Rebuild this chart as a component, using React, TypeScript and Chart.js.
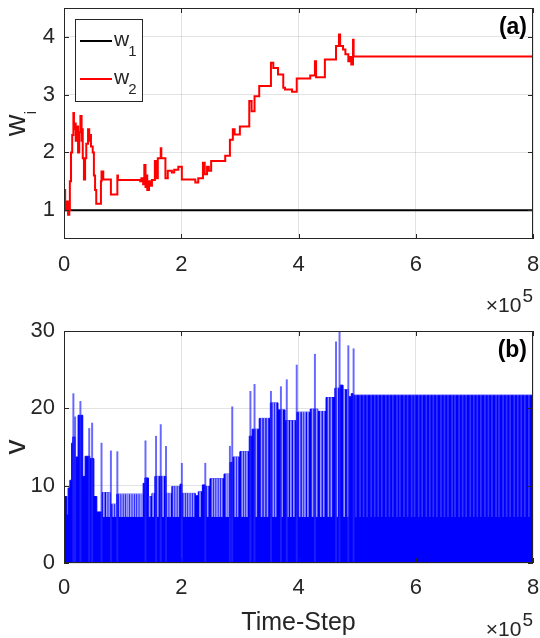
import React, { useEffect, useRef } from "react";
import { Chart, registerables } from "chart.js";

Chart.register(...registerables);

// ---------- axes ----------
const X_TICKS = [0, 2, 4, 6, 8];
const X_TICK_LABELS = ["0", "2", "4", "6", "8"];
const W_TICKS = [1, 2, 3, 4];
const W_TICK_LABELS = ["1", "2", "3", "4"];
const V_TICKS = [0, 10, 20, 30];
const V_TICK_LABELS = ["0", "10", "20", "30"];

// ---------- panel (a): weights ----------
const w1X = [0, 8];
const w1Y = [1, 1];

const w2X = [
  0.0, 0.02, 0.03, 0.05, 0.07, 0.09, 0.1, 0.12, 0.14, 0.16, 0.17, 0.19, 0.2, 0.22, 0.24, 0.26,
  0.28, 0.3, 0.31, 0.32, 0.34, 0.36, 0.38, 0.41, 0.43, 0.44, 0.46, 0.49, 0.51, 0.53, 0.55, 0.63,
  0.64, 0.67, 0.8, 0.91, 0.92, 1.3, 1.32, 1.35, 1.37, 1.39, 1.41, 1.42, 1.45, 1.47, 1.5, 1.55,
  1.57, 1.6, 1.65, 1.66, 1.73, 1.77, 1.84, 1.88, 1.95, 2.01, 2.24, 2.29, 2.37, 2.4, 2.44, 2.47,
  2.51, 2.75, 2.83, 2.88, 2.91, 3.0, 3.16, 3.2, 3.25, 3.33, 3.53, 3.57, 3.65, 3.74, 3.77, 3.89,
  3.97, 4.2, 4.28, 4.3, 4.45, 4.64, 4.69, 4.71, 4.76, 4.8, 4.85, 4.88, 4.9, 4.93, 4.94, 8.0,
];
const w2Y = [
  1.35, 1.15, 1.0, 1.15, 0.92, 1.0, 1.5, 2.0, 2.3, 2.68, 2.4, 2.5, 2.2, 2.45, 2.0, 2.35,
  2.63, 2.2, 2.4, 1.9, 1.53, 1.9, 2.15, 2.4, 2.2, 2.3, 2.1, 2.0, 1.6, 1.35, 1.11, 1.5,
  1.67, 1.53, 1.27, 1.6, 1.52, 1.5, 1.55, 1.45, 1.78, 1.4, 1.6, 1.35, 1.5, 1.42, 1.52, 1.85,
  1.55, 1.9, 2.07, 1.9, 1.55, 1.68, 1.65, 1.7, 1.75, 1.53, 1.48, 1.55, 1.82, 1.62, 1.75, 1.68,
  1.85, 1.94, 2.22, 2.4, 2.31, 2.45, 2.89, 2.71, 2.97, 3.15, 3.55, 3.46, 3.35, 3.12, 3.09, 3.05,
  3.28, 3.33, 3.58, 3.3, 3.61, 3.84, 4.04, 3.84, 3.78, 3.7, 3.58, 3.65, 3.52, 3.95, 3.66, 3.66,
];

// ---------- panel (b): v ----------
const vEnvX = [
  0.0, 0.05, 0.07, 0.1, 0.13, 0.15, 0.19, 0.24, 0.32, 0.36, 0.44, 0.51, 0.56, 0.65, 0.79, 0.9,
  1.35, 1.38, 1.44, 1.5, 1.55, 1.74, 1.84, 1.98, 2.01, 2.24, 2.29, 2.36, 2.41, 2.49, 2.73, 2.83,
  2.88, 3.0, 3.16, 3.21, 3.33, 3.52, 3.65, 3.77, 3.97, 4.2, 4.33, 4.47, 4.62, 4.71, 4.76, 4.85,
  4.9, 4.93, 8.0,
];
const vEnvY = [
  8.6, 6.2, 9.7, 10.7, 15.5, 16.3, 13.7, 19.1, 11.2, 13.8, 13.5, 8.6, 6.6, 9.1, 7.6, 8.9,
  10.3, 11.0, 8.6, 9.0, 11.2, 9.0, 9.9, 10.2, 9.0, 8.7, 9.2, 10.1, 9.9, 10.9, 11.5, 13.0,
  13.7, 14.4, 16.4, 17.3, 18.7, 20.7, 19.8, 18.4, 19.5, 19.9, 19.6, 21.4, 22.6, 23.0, 22.4, 21.5,
  21.9, 21.7, 21.7,
];

const vSpikeX = [
  0.0, 0.16, 0.19, 0.28, 0.43, 0.48, 0.64, 0.8, 0.91, 1.39, 1.57, 1.65, 1.74, 2.01, 2.41, 2.83,
  2.87, 3.18, 3.25, 3.53, 3.7, 3.8, 3.97, 4.28, 4.64, 4.7, 4.85, 4.94,
];
const vSpikeY = [
  12.7, 21.9, 18.9, 20.9, 17.4, 18.1, 15.5, 14.5, 14.4, 15.8, 16.4, 17.9, 15.1, 12.9, 12.9, 15.1,
  20.2, 22.2, 23.1, 22.2, 22.8, 23.7, 25.6, 27.0, 28.6, 29.9, 28.1, 27.7,
];

const V_GAP_FLOOR = 6;
const vGapX = [
  0.68, 0.73, 0.77, 0.84, 0.88, 0.95, 0.99, 1.03, 1.07, 1.1, 1.14, 1.18, 1.22, 1.26, 1.3, 1.33,
  1.46, 1.52, 1.6, 1.69, 1.77, 1.81, 1.87, 1.91, 1.95, 2.05, 2.09, 2.13, 2.17, 2.21, 2.32, 2.45,
  2.53, 2.57, 2.61, 2.65, 2.69, 2.77, 2.8, 2.92, 2.96, 3.04, 3.08, 3.12, 3.28, 3.37, 3.42, 3.47,
  3.57, 3.61, 3.72, 3.82, 3.87, 3.92, 4.02, 4.07, 4.11, 4.16, 4.24, 4.31, 4.38, 4.43, 4.51, 4.56,
  4.66, 4.78, 4.84, 4.98, 5.05, 5.11, 5.17, 5.24, 5.3, 5.36, 5.42, 5.49, 5.55, 5.61, 5.68, 5.73,
  5.8, 5.86, 5.93, 5.98, 6.05, 6.11, 6.18, 6.24, 6.3, 6.36, 6.43, 6.49, 6.55, 6.62, 6.67, 6.74,
  6.8, 6.86, 6.93, 6.99, 7.05, 7.11, 7.18, 7.24, 7.3, 7.37, 7.42, 7.49, 7.55, 7.61, 7.68, 7.74,
  7.8, 7.86, 7.93,
];
const vGapTop = [
  9.1, 9.1, 9.1, 7.6, 7.6, 8.9, 8.9, 8.9, 8.9, 8.9, 8.9, 8.9, 8.9, 8.9, 8.9, 8.9,
  8.6, 9.0, 11.2, 11.2, 9.0, 9.0, 9.9, 9.9, 9.9, 9.0, 9.0, 9.0, 9.0, 9.0, 9.2, 9.9,
  10.9, 10.9, 10.9, 10.9, 10.9, 11.5, 11.5, 13.7, 13.7, 14.4, 14.4, 14.4, 17.3, 18.7, 18.7, 18.7,
  20.7, 20.7, 19.8, 18.4, 18.4, 18.4, 19.5, 19.5, 19.5, 19.5, 19.9, 19.9, 19.6, 19.6, 21.4, 21.4,
  22.6, 22.4, 22.4, 21.7, 21.7, 21.7, 21.7, 21.7, 21.7, 21.7, 21.7, 21.7, 21.7, 21.7, 21.7, 21.7,
  21.7, 21.7, 21.7, 21.7, 21.7, 21.7, 21.7, 21.7, 21.7, 21.7, 21.7, 21.7, 21.7, 21.7, 21.7, 21.7,
  21.7, 21.7, 21.7, 21.7, 21.7, 21.7, 21.7, 21.7, 21.7, 21.7, 21.7, 21.7, 21.7, 21.7, 21.7, 21.7,
  21.7, 21.7, 21.7,
];

// ---------- styling ----------
const INK = "#262626";
const GRID = "rgba(38,38,38,0.13)";
const FONT = '"Liberation Sans", Arial, Helvetica, sans-serif';
const W = 540;
const TOP_H = 320;
const BOT_H = 318;

type PanelOpts = {
  letter: string;
  yTicks: number[];
  yLabel: string;
  ySub: string;
  legend: boolean;
  xTitle: boolean;
};

function makeDecor(o: PanelOpts) {
  return {
    id: "decor",
    afterDraw(chart: any) {
      const { ctx, chartArea: ca } = chart;
      const xs = chart.scales.x;
      const ys = chart.scales.y;
      ctx.save();
      ctx.strokeStyle = INK;
      ctx.lineWidth = 1;
      // ticks pointing inward
      const tl = 5;
      ctx.beginPath();
      X_TICKS.forEach((v) => {
        const px = Math.round(xs.getPixelForValue(v)) + 0.5;
        ctx.moveTo(px, ca.bottom);
        ctx.lineTo(px, ca.bottom - tl);
        ctx.moveTo(px, ca.top);
        ctx.lineTo(px, ca.top + tl);
      });
      o.yTicks.forEach((v) => {
        const py = Math.round(ys.getPixelForValue(v)) + 0.5;
        ctx.moveTo(ca.left, py);
        ctx.lineTo(ca.left + tl, py);
        ctx.moveTo(ca.right, py);
        ctx.lineTo(ca.right - tl, py);
      });
      ctx.stroke();
      // box
      ctx.strokeRect(ca.left + 0.5, ca.top + 0.5, ca.right - ca.left - 1, ca.bottom - ca.top - 1);

      // panel letter
      ctx.font = `bold 23px ${FONT}`;
      ctx.textAlign = "right";
      ctx.textBaseline = "alphabetic";
      ctx.fillStyle = "#000";
      ctx.fillText(o.letter, ca.right - 6, ca.top + 26);
      ctx.fillStyle = INK;

      // x10^5
      ctx.textAlign = "left";
      ctx.font = `19px ${FONT}`;
      const w5 = ctx.measureText("5").width;
      ctx.font = `21px ${FONT}`;
      const w10 = ctx.measureText("10").width;
      const wx = ctx.measureText("\u00d7").width;
      const x5 = ca.right - w5;
      const x10 = x5 - w10 - 1;
      const xx = x10 - wx;
      const base = ca.bottom + 73;
      ctx.fillText("\u00d7", xx, base);
      ctx.fillText("10", x10, base);
      ctx.font = `19px ${FONT}`;
      ctx.fillText("5", x5, base - 10);

      // y label (rotated) with subscript
      const cy = (ca.top + ca.bottom) / 2;
      ctx.save();
      ctx.translate(25, cy);
      ctx.rotate(-Math.PI / 2);
      ctx.font = `30px ${FONT}`;
      const mw = ctx.measureText(o.yLabel).width;
      let sw = 0;
      if (o.ySub) {
        ctx.font = `17px ${FONT}`;
        sw = ctx.measureText(o.ySub).width;
      }
      const start = -(mw + sw) / 2;
      ctx.font = `30px ${FONT}`;
      ctx.textAlign = "left";
      ctx.fillText(o.yLabel, start, 0);
      if (o.ySub) {
        ctx.font = `17px ${FONT}`;
        ctx.fillText(o.ySub, start + mw, 11);
      }
      ctx.restore();

      // x title
      if (o.xTitle) {
        ctx.font = `25px ${FONT}`;
        ctx.textAlign = "center";
        ctx.textBaseline = "middle";
        ctx.fillText("Time-Step", (ca.left + ca.right) / 2, ca.bottom + 60);
      }

      // legend
      if (o.legend) {
        ctx.fillStyle = "#fff";
        ctx.fillRect(75, 19, 67, 82);
        ctx.strokeStyle = INK;
        ctx.lineWidth = 1;
        ctx.strokeRect(75.5, 19.5, 67, 82);
        const rows = [
          { color: "#000000", y: 41, sub: "1" },
          { color: "#ff0000", y: 79, sub: "2" },
        ];
        rows.forEach((r) => {
          ctx.strokeStyle = r.color;
          ctx.lineWidth = 2;
          ctx.beginPath();
          ctx.moveTo(80, r.y);
          ctx.lineTo(112, r.y);
          ctx.stroke();
          ctx.fillStyle = INK;
          ctx.textAlign = "left";
          ctx.textBaseline = "alphabetic";
          ctx.font = `21px ${FONT}`;
          ctx.fillText("w", 114, r.y + 5);
          const ww = ctx.measureText("w").width;
          ctx.font = `15px ${FONT}`;
          ctx.fillText(r.sub, 114 + ww - 1, r.y + 15);
        });
      }
      ctx.restore();
    },
  };
}

function xScale(height: number, padding: number) {
  return {
    type: "linear",
    min: 0,
    max: 8,
    offset: false,
    afterBuildTicks: (s: any) => {
      s.ticks = X_TICKS.map((v) => ({ value: v }));
    },
    afterFit: (s: any) => {
      s.height = height;
      s.paddingLeft = 0;
      s.paddingRight = 0;
      s.paddingTop = 0;
      s.paddingBottom = 0;
    },
    grid: { color: GRID, drawTicks: false, offset: false, lineWidth: 1 },
    border: { display: false },
    ticks: {
      padding,
      color: INK,
      autoSkip: false,
      maxRotation: 0,
      font: { family: FONT, size: 22 },
      callback: (v: number) => X_TICK_LABELS[X_TICKS.indexOf(v)] ?? "",
    },
  };
}

function yScale(min: number, max: number, ticks: number[], labels: string[]) {
  return {
    type: "linear",
    min,
    max,
    afterBuildTicks: (s: any) => {
      s.ticks = ticks.map((v) => ({ value: v }));
    },
    afterFit: (s: any) => {
      s.width = 64;
      s.paddingLeft = 0;
      s.paddingRight = 0;
      s.paddingTop = 0;
      s.paddingBottom = 0;
    },
    grid: { color: GRID, drawTicks: false, lineWidth: 1 },
    border: { display: false },
    ticks: {
      padding: 9,
      color: INK,
      font: { family: FONT, size: 22 },
      callback: (v: number) => labels[ticks.indexOf(v)] ?? "",
    },
  };
}

function pts(xs: number[], ys: number[]) {
  return xs.map((x, i) => ({ x, y: ys[i] }));
}

function topConfig(): any {
  return {
    type: "line",
    data: {
      datasets: [
        {
          label: "w1",
          data: pts(w1X, w1Y),
          borderColor: "#000000",
          borderWidth: 2,
          pointRadius: 0,
          fill: false,
          order: 2,
        },
        {
          label: "w2",
          data: pts(w2X, w2Y),
          borderColor: "#ff0000",
          borderWidth: 2,
          pointRadius: 0,
          stepped: "before",
          fill: false,
          order: 1,
        },
      ],
    },
    options: {
      responsive: false,
      animation: false,
      layout: { padding: { left: 0, right: 7, top: 8, bottom: 0 } },
      plugins: { legend: { display: false }, tooltip: { enabled: false } },
      scales: {
        x: xScale(TOP_H - 239, 13),
        y: yScale(0.5, 4.5, W_TICKS, W_TICK_LABELS),
      },
    },
    plugins: [
      makeDecor({ letter: "(a)", yTicks: W_TICKS, yLabel: "w", ySub: "i", legend: true, xTitle: false }),
    ],
  };
}

function bottomConfig(): any {
  return {
    type: "line",
    data: {
      datasets: [
        {
          type: "bar",
          label: "spikes",
          data: vSpikeX.map((x, i) => ({ x, y: [0, vSpikeY[i]] })),
          backgroundColor: "rgba(40,40,255,0.7)",
          borderWidth: 0,
          barThickness: 1.3,
          grouped: false,
          order: 1,
        },
        {
          type: "bar",
          label: "gaps",
          data: vGapX.map((x, i) => ({ x, y: [V_GAP_FLOOR, vGapTop[i]] })),
          backgroundColor: (c: any) =>
            c.raw && c.raw.x > 4.95 ? "rgba(255,255,255,0.2)" : "rgba(255,255,255,0.6)",
          borderWidth: 0,
          barThickness: 1,
          grouped: false,
          order: 2,
        },
        {
          type: "line",
          label: "v",
          data: pts(vEnvX, vEnvY),
          borderColor: "#0000ff",
          backgroundColor: "#0000ff",
          borderWidth: 1,
          pointRadius: 0,
          stepped: "before",
          fill: "origin",
          order: 3,
        },
      ],
    },
    options: {
      responsive: false,
      animation: false,
      layout: { padding: { left: 0, right: 7, top: 11, bottom: 0 } },
      plugins: { legend: { display: false }, tooltip: { enabled: false } },
      scales: {
        x: xScale(BOT_H - 243, 12),
        y: yScale(0, 30, V_TICKS, V_TICK_LABELS),
      },
    },
    plugins: [
      makeDecor({ letter: "(b)", yTicks: V_TICKS, yLabel: "v", ySub: "", legend: false, xTitle: true }),
    ],
  };
}

function Panel({ top, height, build }: { top: number; height: number; build: () => any }) {
  const ref = useRef<HTMLCanvasElement | null>(null);
  useEffect(() => {
    if (!ref.current) return;
    const chart = new Chart(ref.current, build());
    return () => chart.destroy();
  }, []);
  return (
    <canvas
      ref={ref}
      width={W}
      height={height}
      style={{ position: "absolute", left: 0, top, width: W, height, display: "block" }}
    />
  );
}

export default function App() {
  return (
    <div style={{ position: "absolute", left: 0, top: 0, width: W, height: TOP_H + BOT_H, background: "#fff" }}>
      <Panel top={0} height={TOP_H} build={topConfig} />
      <Panel top={TOP_H} height={BOT_H} build={bottomConfig} />
    </div>
  );
}
